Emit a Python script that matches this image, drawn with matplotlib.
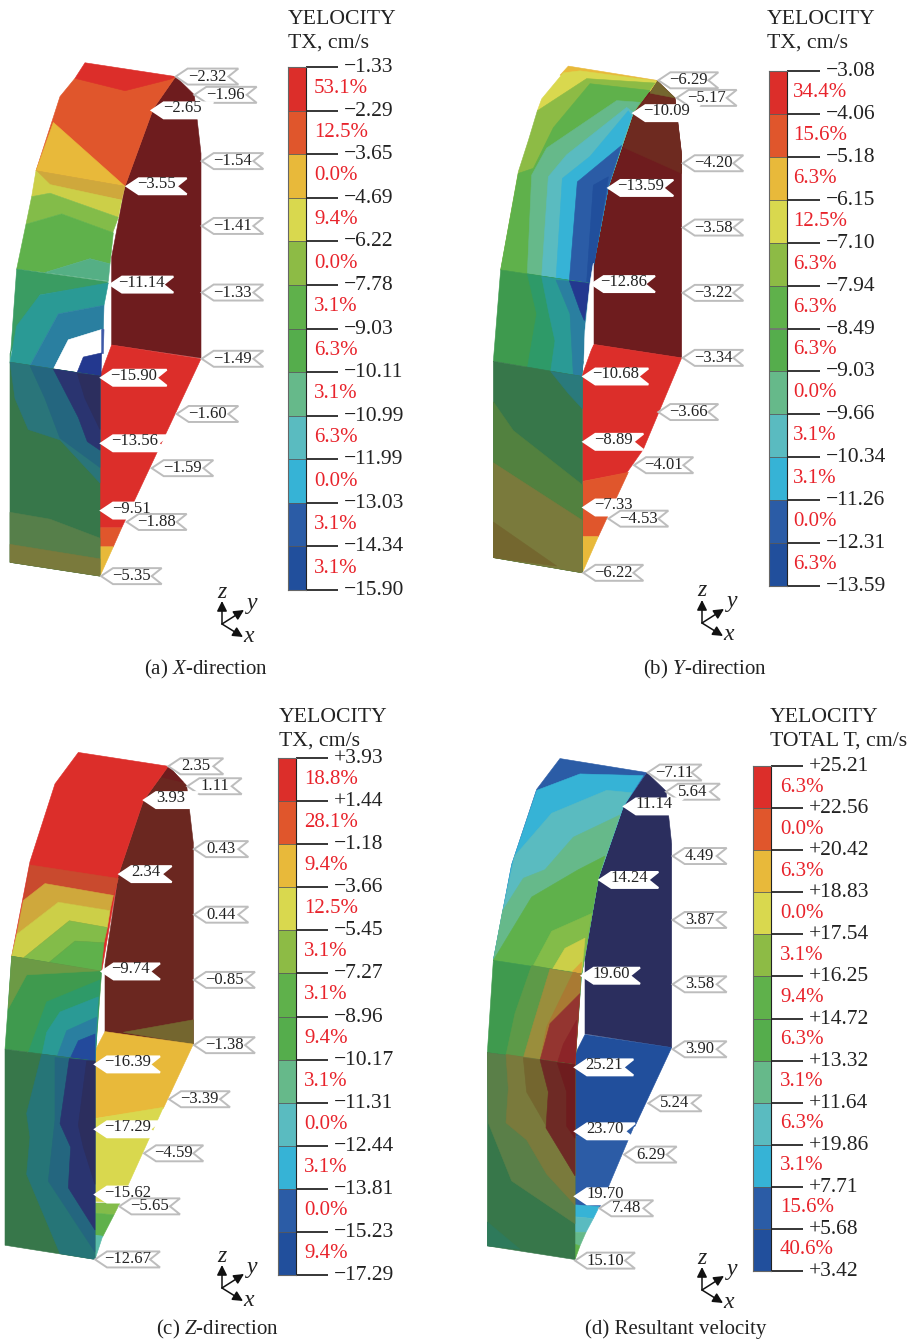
import matplotlib
matplotlib.use('Agg')
import matplotlib.pyplot as plt
from matplotlib.patches import Polygon
from matplotlib.transforms import ScaledTranslation

plt.rcParams['font.family'] = ['Liberation Serif', 'DejaVu Serif']
plt.rcParams['mathtext.fontset'] = 'custom'
plt.rcParams['mathtext.rm'] = 'Liberation Serif'
plt.rcParams['mathtext.it'] = 'Liberation Serif:italic'

W, H = 914, 1343

# legend values, top to bottom
levels_a = [-1.33, -2.29, -3.65, -4.69, -6.22, -7.78, -9.03, -10.11, -10.99, -11.99, -13.03, -14.34, -15.90]
levels_b = [-3.08, -4.06, -5.18, -6.15, -7.10, -7.94, -8.49, -9.03, -9.66, -10.34, -11.26, -12.31, -13.59]
levels_c = [3.93, 1.44, -1.18, -3.66, -5.45, -7.27, -8.96, -10.17, -11.31, -12.44, -13.81, -15.23, -17.29]
levels_d = [25.21, 22.56, 20.42, 18.83, 17.54, 16.25, 14.72, 13.32, 11.64, 19.86, 7.71, 5.68, 3.42]

percent_a = [53.1, 12.5, 0.0, 9.4, 0.0, 3.1, 6.3, 3.1, 6.3, 0.0, 3.1, 3.1]
percent_b = [34.4, 15.6, 6.3, 12.5, 6.3, 6.3, 6.3, 0.0, 3.1, 3.1, 0.0, 6.3]
percent_c = [18.8, 28.1, 9.4, 12.5, 3.1, 3.1, 9.4, 3.1, 0.0, 3.1, 0.0, 9.4]
percent_d = [6.3, 0.0, 6.3, 0.0, 3.1, 9.4, 6.3, 3.1, 6.3, 3.1, 15.6, 40.6]

band_colors = ['#DC2E2A', '#E0562C', '#E8B93A', '#D9D84E', '#8DBB45', '#5FB14B',
               '#55AD4C', '#66B98A', '#5ABBC0', '#36B3D6', '#2B5CA6', '#214F9C']

# node labels
nodes_a = [-2.32, -1.96, -2.65, -1.54, -3.55, -1.41, -11.14, -1.33, -1.49, -15.90, -1.60, -13.56, -1.59, -9.51, -1.88, -5.35]
nodes_b = [-6.29, -5.17, -10.09, -4.20, -13.59, -3.58, -12.86, -3.22, -3.34, -10.68, -3.66, -8.89, -4.01, -7.33, -4.53, -6.22]
nodes_c = [2.35, 1.11, 3.93, 0.43, 2.34, 0.44, -9.74, -0.85, -1.38, -16.39, -3.39, -17.29, -4.59, -15.62, -5.65, -12.67]
nodes_d = [-7.11, 5.64, 11.14, 4.49, 14.24, 3.87, 19.60, 3.58, 3.90, 25.21, 5.24, 23.70, 6.29, 19.70, 7.48, 15.10]

# tag placement: tip x, tip y, right end, interior tag (all in crop units, relative to the panel corner)
tags_a = [(527,77,715,0),(583,130,770,0),(455,175,640,1),(605,322,790,0),(380,395,560,1),(605,510,790,0),
          (330,680,520,1),(605,703,790,0),(605,895,790,0),(303,950,500,1),(530,1055,715,0),(303,1140,505,1),
          (455,1212,640,0),(303,1335,485,1),(380,1368,560,0),(303,1525,485,0)]
tags_b = [(535,60,715,0),(590,112,770,0),(460,157,660,1),(608,305,790,0),(385,378,580,1),(608,495,790,0),
          (335,662,525,1),(608,688,790,0),(608,880,790,0),(310,935,505,1),(535,1040,715,0),(310,1128,490,1),
          (462,1197,640,0),(310,1322,490,1),(385,1355,565,0),(310,1515,490,0)]
tags_c = [(505,63,670,0),(562,122,725,0),(432,163,595,1),(582,308,745,0),(358,382,515,1),(582,502,745,0),
          (305,670,480,1),(582,695,765,0),(582,888,765,0),(285,945,480,1),(507,1048,690,0),(285,1137,480,1),
          (432,1208,610,0),(285,1330,480,1),(358,1365,540,0),(285,1522,480,0)]
tags_d = [(503,66,665,0),(558,122,720,0),(432,165,610,1),(578,310,740,0),(358,380,535,1),(578,497,740,0),
          (305,660,480,1),(578,685,740,0),(578,875,740,0),(285,928,460,1),(505,1033,665,0),(285,1115,465,1),
          (432,1183,590,0),(285,1305,465,1),(358,1340,520,0),(285,1493,465,0)]

# contour patches of the lining, painted in order (crop units, relative to the panel corner)
shell_a = [
    ('#6E1C1E', [(527,77),(583,130),(603,300),(603,893),(335,855),(335,600),(375,395),(460,170)]),
    ('#DC2E2A', [(335,855),(603,895),(365,1385),(300,1385),(300,945)]),
    ('#E0562C', [(300,1385),(365,1385),(340,1440),(300,1440)]),
    ('#E8B93A', [(300,1440),(340,1440),(300,1525)]),
    ('#E0562C', [(225,82),(527,77),(460,170),(375,395),(108,350),(180,135)]),
    ('#DC2E2A', [(255,37),(527,77),(510,85),(375,118),(225,82)]),
    ('#E8B93A', [(160,210),(375,395),(108,350)]),
    ('#CFA83C', [(108,350),(375,395),(365,435),(150,395)]),
    ('#CCCF48', [(108,350),(150,390),(365,435),(355,485),(150,415),(95,425)]),
    ('#83BC49', [(95,425),(150,415),(355,485),(338,530),(185,475),(78,505)]),
    ('#5FB14B', [(78,505),(185,475),(340,530),(330,620),(270,605),(135,645),(50,635)]),
    ('#55AF85', [(135,645),(270,605),(330,620),(325,670)]),
    ('#3A9C62', [(50,635),(325,672),(315,680),(120,710),(30,880),(30,905)]),
    ('#2A9A95', [(120,710),(325,675),(312,740),(175,765),(90,915),(30,905),(50,800)]),
    ('#2A7FA0', [(175,765),(312,740),(310,810),(205,840),(160,925),(90,915)]),
    ('#FFFFFF', [(205,840),(305,810),(305,880),(250,890),(230,938),(160,925)]),
    ('#3E59A8', [(305,810),(312,810),(310,880),(305,880)]),
    ('#23388F', [(250,890),(305,878),(303,945),(230,938)]),
    ('#37774A', [(30,905),(300,945),(300,1525),(30,1485)]),
    ('#567F4A', [(30,1340),(150,1360),(300,1415),(300,1525),(30,1485)]),
    ('#7A7A3C', [(30,1433),(300,1475),(300,1525),(30,1485)]),
    ('#2A757A', [(30,905),(300,945),(300,1255),(180,1130),(85,1100),(45,1010)]),
    ('#24667F', [(90,915),(300,945),(300,1210),(180,1125),(135,1010)]),
    ('#2A3470', [(160,925),(300,945),(300,1160),(262,1135),(235,1065)]),
    ('#2C2E5E', [(232,938),(300,945),(300,1100),(255,1010)]),
]
shell_b = [
    ('#6E1C1E', [(530,60),(585,112),(605,280),(605,880),(340,840),(340,600),(385,375),(460,155)]),
    ('#6E2A20', [(510,100),(585,112),(605,280),(605,335),(430,258),(460,155)]),
    ('#74662F', [(530,60),(585,112),(510,98)]),
    ('#DC2E2A', [(340,840),(605,880),(490,1150),(440,1220),(307,1245),(307,930)]),
    ('#E0562C', [(307,1245),(445,1218),(355,1408),(307,1408)]),
    ('#E8B93A', [(307,1408),(355,1408),(307,1515)]),
    ('#E8B93A', [(265,18),(530,60),(510,92),(240,45)]),
    ('#D9D84E', [(250,38),(300,32),(530,62),(510,92),(172,150),(185,115)]),
    ('#8DBB45', [(320,55),(525,68),(460,155),(385,375),(330,660),(62,620),(115,330),(146,235),(172,150)]),
    ('#5FB14B', [(330,70),(510,90),(460,155),(385,375),(330,660),(62,620),(115,335),(160,320),(220,200)]),
    ('#66B98A', [(410,120),(480,125),(460,155),(385,375),(330,660),(142,630),(155,340),(200,260)]),
    ('#5ABBC0', [(440,140),(460,155),(385,375),(330,660),(185,640),(205,345),(260,280)]),
    ('#36B3D6', [(445,150),(455,165),(425,250),(385,375),(330,660),(228,650),(247,350),(330,285)]),
    ('#2B5CA6', [(425,252),(385,375),(330,660),(268,652),(292,360)]),
    ('#214F9C', [(385,345),(340,370),(320,655),(330,660),(345,590)]),
    ('#3E9A4E', [(62,620),(330,660),(305,935),(40,890)]),
    ('#2E9A68', [(142,632),(330,660),(305,935),(142,910),(170,750)]),
    ('#2A9A95', [(185,640),(330,660),(305,935),(212,920),(225,830),(205,740)]),
    ('#2A7FA0', [(228,650),(330,660),(315,850),(305,935),(280,930),(270,750)]),
    ('#23388F', [(268,652),(330,660),(313,770),(300,740)]),
    ('#FFFFFF', [(330,660),(340,600),(340,840),(312,890),(315,800)]),
    ('#37774A', [(40,890),(307,935),(307,1515),(40,1470)]),
    ('#2A7A7C', [(212,920),(307,935),(307,1030),(265,985)]),
    ('#52813F', [(40,1010),(100,1095),(307,1255),(307,1515),(40,1470)]),
    ('#7A7A3C', [(40,1190),(307,1360),(307,1515),(40,1470)]),
    ('#74672F', [(40,1365),(230,1495),(40,1470)]),
]
shell_c = [
    ('#6B2720', [(505,63),(560,120),(580,290),(580,885),(315,850),(315,650),(355,385),(430,165)]),
    ('#6E1C1E', [(505,63),(550,110),(485,95)]),
    ('#74662F', [(370,850),(580,813),(580,885)]),
    ('#E8B93A', [(315,848),(580,885),(490,1075),(285,1105),(285,905)]),
    ('#D9D84E', [(285,1105),(490,1072),(360,1355),(285,1350)]),
    ('#83BC49', [(285,1355),(360,1355),(342,1390),(285,1385)]),
    ('#5FB14B', [(285,1385),(342,1390),(308,1455),(285,1450)]),
    ('#5ABBA8', [(285,1450),(308,1453),(285,1522)]),
    ('#DC2E2A', [(235,22),(505,63),(430,165),(355,385),(305,670),(35,625),(90,345),(165,115)]),
    ('#C94A2E', [(90,355),(355,395),(340,445),(135,410),(70,460)]),
    ('#CFA83C', [(70,460),(135,410),(340,445),(330,490),(175,465),(50,560)]),
    ('#CCCF48', [(50,560),(175,465),(330,490),(322,540),(208,520),(70,630),(35,625)]),
    ('#83BC49', [(70,630),(208,520),(322,540),(312,585),(225,580),(145,645)]),
    ('#5FB14B', [(145,645),(225,580),(312,585),(303,670)]),
    ('#3F9A4E', [(35,625),(305,670),(285,935),(15,900)]),
    ('#6C9A45', [(35,625),(300,668),(80,680),(25,780)]),
    ('#2E9A68', [(140,760),(300,695),(285,935),(85,910)]),
    ('#2A9A95', [(180,790),(295,745),(285,935),(125,920),(140,850)]),
    ('#2A7FA0', [(200,845),(290,805),(285,935),(170,925)]),
    ('#234A9C', [(235,875),(285,855),(285,935),(210,928)]),
    ('#37774A', [(15,900),(285,935),(285,1522),(15,1480)]),
    ('#267577', [(125,915),(285,935),(285,1522),(180,1505),(80,1270),(90,1160),(80,1090)]),
    ('#24667F', [(165,925),(285,935),(285,1500),(145,1290),(165,1110)]),
    ('#2A3470', [(208,928),(285,935),(285,1435),(205,1310),(212,1190),(180,1120)]),
    ('#2C2E5E', [(260,935),(285,935),(285,1300),(250,1190),(235,1125)]),
]
shell_d = [
    ('#2B2E5E', [(500,66),(558,120),(575,275),(575,870),(315,830),(315,610),(355,375),(430,165)]),
    ('#214F9C', [(315,832),(575,870),(465,1100),(285,1130),(285,890)]),
    ('#2C5CA6', [(285,1130),(462,1100),(358,1340),(285,1330)]),
    ('#36B3D6', [(285,1330),(358,1335),(340,1370),(285,1365)]),
    ('#5ABBC0', [(285,1365),(340,1370),(318,1410),(285,1410)]),
    ('#66B98A', [(285,1410),(318,1410),(300,1450),(285,1445)]),
    ('#5FB14B', [(285,1445),(300,1450),(285,1490)]),
    ('#2B5CA6', [(240,25),(500,66),(430,165),(355,375),(305,655),(40,615),(95,335),(170,115)]),
    ('#36B3D6', [(300,70),(490,75),(430,165),(355,375),(305,655),(40,615),(95,335),(170,118)]),
    ('#5ABBC0', [(380,118),(455,125),(430,165),(355,375),(305,655),(40,615),(68,470),(104,310),(215,185)]),
    ('#66B98A', [(420,190),(355,375),(305,655),(40,615),(68,470),(130,375),(195,350),(280,255)]),
    ('#5FB14B', [(375,310),(355,375),(305,655),(40,615),(155,430),(295,350)]),
    ('#83BC49', [(335,478),(305,655),(160,630),(215,530)]),
    ('#CCCF48', [(315,550),(305,650),(218,640),(255,580)]),
    ('#D9A83A', [(305,620),(303,655),(275,650)]),
    ('#3F9A4E', [(40,615),(305,655),(285,920),(22,885)]),
    ('#5D9A48', [(155,630),(303,655),(285,920),(78,892),(105,770)]),
    ('#9A8E3C', [(210,640),(303,655),(285,920),(130,900),(160,800)]),
    ('#A97A33', [(280,650),(303,655),(285,920),(180,908),(200,810)]),
    ('#943530', [(300,712),(285,920),(180,908),(210,800)]),
    ('#8C2428', [(290,790),(285,920),(232,915),(250,860)]),
    ('#37774A', [(22,885),(285,920),(285,1490),(22,1450)]),
    ('#5A7F48', [(22,885),(285,920),(285,1385),(95,1260),(25,1090)]),
    ('#7A7A3C', [(78,890),(285,920),(285,1330),(200,1240),(140,1140),(78,1090),(85,990)]),
    ('#74662F', [(130,900),(285,920),(285,1245),(140,1000)]),
    ('#6E2A25', [(180,905),(285,920),(285,1245),(198,1105),(205,1000)]),
    ('#6E1C1E', [(232,915),(285,920),(285,1135),(260,1100),(260,1000)]),
    ('#2E7A5B', [(22,1380),(120,1460),(22,1450)]),
]


def signed(v, plus=False):
    s = f'{v:+.2f}' if plus else f'{v:.2f}'
    return s.replace('-', '\u2212')


fig = plt.figure(figsize=(W / 100, H / 100), dpi=100)
ax = fig.add_axes([0, 0, 1, 1])
ax.set_xlim(0, W)
ax.set_ylim(H, 0)
ax.axis('off')


def draw_shell(patches, tags, values, ox, oy, sy):
    for col, pts in patches:
        ax.add_patch(Polygon([(ox + x / 3, oy + y * sy) for x, y in pts], fc=col, ec=col, lw=0.4, zorder=2))
    for v, (tx, ty, rx, inner) in zip(values, tags):
        x0 = ox + tx / 3
        y0 = oy + ty * sy
        x1 = ox + rx / 3
        shape = [(x0, y0), (x0 + 12, y0 - 8), (x1, y0 - 8), (x1 - 10, y0), (x1, y0 + 8), (x0 + 12, y0 + 8)]
        ec = '#FFFFFF' if inner else '#BDBDBD'
        ax.add_patch(Polygon(shape, fc='white', ec=ec, lw=1.4, zorder=4))
        # interior tags sit a bit high so the close pairs near the crown stay apart
        ax.text((x0 + x1 - 6) / 2 + 3, y0 - (2 if inner else 0), signed(v), fontsize=12, color='#222222',
                ha='center', va='center', zorder=5)


def draw_scale(levels, percent, title, x0, y0, y1, tick_px, plus, pct_dx):
    # colour scale as its own axes, one unit per band
    cax = fig.add_axes([x0 / W, 1 - y1 / H, 18 / W, (y1 - y0) / H])
    rows = list(range(len(percent)))
    cax.barh([r + 0.5 for r in rows], [1] * len(rows), height=1, color=band_colors, edgecolor='#555555', linewidth=0.5)
    cax.set_xlim(0, 1)
    cax.set_ylim(len(percent), 0)
    cax.set_xticks([])
    cax.yaxis.tick_right()
    cax.set_yticks(range(len(levels)), [signed(v, plus) for v in levels])
    cax.tick_params(axis='y', length=tick_px * 0.72, width=1.1, pad=4.5, labelsize=15.5, labelcolor='#222222')
    up = ScaledTranslation(0, 2 / 100, fig.dpi_scale_trans)
    for lab in cax.get_yticklabels():
        lab.set_transform(lab.get_transform() + up)
    for s in cax.spines.values():
        s.set_color('#666666')
    cax.spines['right'].set_color('#222222')
    for r, p in zip(rows, percent):
        cax.text(1 + pct_dx / 18, r + 0.5, f'{p:.1f}%', color='#E8232B', fontsize=15, ha='left', va='center', clip_on=False)
    ax.text(title[1], title[2] + 2, title[0][0], fontsize=15.7, color='#222222', va='center')
    ax.text(title[1], title[2] + 26, title[0][1], fontsize=15.7, color='#222222', va='center')


def draw_triad(ox, oy):
    for dx, dy in [(0, -23), (22, -14), (21, 13)]:
        ax.annotate('', xy=(ox + dx, oy + dy), xytext=(ox, oy), zorder=3,
                    arrowprops=dict(arrowstyle='-|>', color='#111111', lw=1.1, mutation_scale=15, shrinkA=0, shrinkB=0))
    for s, dx, dy in [('z', 0, -32), ('y', 30, -21), ('x', 27, 12)]:
        ax.text(ox + dx, oy + dy, s, fontsize=17, style='italic', color='#222222', ha='center', va='center')


draw_shell(shell_a, tags_a, nodes_a, 0, 50, 0.345)
draw_shell(shell_b, tags_b, nodes_b, 480, 60, 0.3385)
draw_shell(shell_c, tags_c, nodes_c, 0, 745, 0.338)
draw_shell(shell_d, tags_d, nodes_d, 480, 750, 0.342)

tx_title = ['YELOCITY', 'TX, cm/s']
draw_scale(levels_a, percent_a, (tx_title, 288, 17), 288, 67, 590, 32, False, 8)
draw_scale(levels_b, percent_b, (tx_title, 767, 17), 769, 71, 586, 33, False, 6)
draw_scale(levels_c, percent_c, (tx_title, 279, 715), 278, 758, 1275, 32, True, 8)
draw_scale(levels_d, percent_d, (['YELOCITY', 'TOTAL T, cm/s'], 770, 715), 753, 766, 1271, 32, True, 9)

draw_triad(222, 624)
draw_triad(702, 623)
draw_triad(222, 1288)
draw_triad(702, 1290)

ax.text(206, 669, '(a) $\\mathit{X}$-direction', fontsize=15, color='#222222', ha='center', va='center')
ax.text(705, 669, '(b) $\\mathit{Y}$-direction', fontsize=15, color='#222222', ha='center', va='center')
ax.text(217, 1329, '(c) $\\mathit{Z}$-direction', fontsize=15, color='#222222', ha='center', va='center')
ax.text(676, 1329, '(d) Resultant velocity', fontsize=15, color='#222222', ha='center', va='center')

fig.savefig('out.png', dpi=100)
